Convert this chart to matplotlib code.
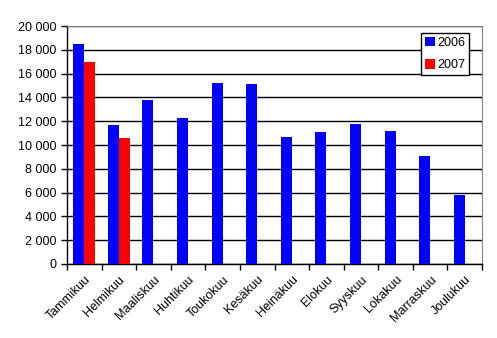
import matplotlib
matplotlib.use("Agg")
import matplotlib.pyplot as plt
import numpy as np
from matplotlib.ticker import FuncFormatter, MultipleLocator

months = ["Tammikuu", "Helmikuu", "Maaliskuu", "Huhtikuu", "Toukokuu", "Kesäkuu",
          "Heinäkuu", "Elokuu", "Syyskuu", "Lokakuu", "Marraskuu", "Joulukuu"]
values_2006 = [18500, 11700, 13800, 12300, 15200, 15150, 10700, 11100, 11800, 11200, 9100, 5800]
values_2007 = [17000, 10600]

plt.rcParams['font.family'] = ['Liberation Sans', 'DejaVu Sans']

fig = plt.figure(figsize=(4.97, 3.38), dpi=100)
ax = fig.add_axes([0.1348, 0.219, 0.8352, 0.704])

x = np.arange(len(months))
w = 0.32
ax.bar(x - w / 2, values_2006, width=w, color="#0000FF", label="2006", zorder=3)
ax.bar(x[:len(values_2007)] + w / 2, values_2007, width=w, color="#FF0000", label="2007", zorder=3)

ax.set_xlim(-0.5, len(months) - 0.5)
ax.set_ylim(0, 20000)
ax.yaxis.set_major_locator(MultipleLocator(2000))
ax.yaxis.set_major_formatter(FuncFormatter(lambda v, p: f"{int(v):,}".replace(",", " ")))
ax.grid(axis="y", color="black", linewidth=1, zorder=0)

ax.set_xticks(x)
ax.set_xticklabels(months, rotation=45, ha="right", va="top", rotation_mode="anchor", fontsize=9)
ax.tick_params(axis="x", length=0, pad=7)
ax.set_xticks(np.arange(-0.5, len(months)), minor=True)
ax.tick_params(axis="x", which="minor", length=4, color="black", width=1)
ax.tick_params(axis="y", labelsize=9, length=4, width=1, color="black")

for s in ["top", "right"]:
    ax.spines[s].set_color("#808080")
for s in ["left", "bottom"]:
    ax.spines[s].set_color("black")
    ax.spines[s].set_linewidth(1)

leg = ax.legend(loc="upper right", bbox_to_anchor=(0.969, 0.97), fontsize=9, frameon=True,
                fancybox=False, edgecolor="black", framealpha=1, handlelength=0.8,
                handleheight=0.8, handletextpad=0.2, borderpad=0.3, labelspacing=0.8,
                borderaxespad=0)
leg.get_frame().set_linewidth(1)
leg.set_zorder(5)

fig.savefig("out.png", dpi=100)
